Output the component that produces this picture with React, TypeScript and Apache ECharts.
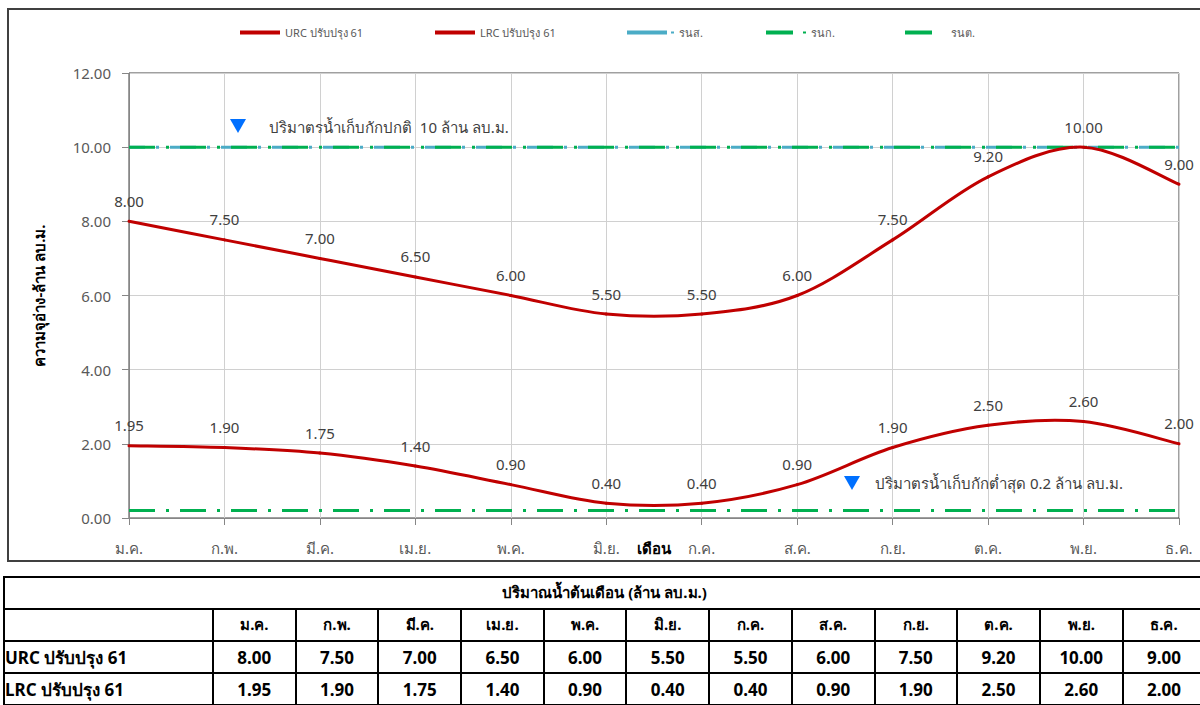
import React, { useEffect, useRef } from "react";
import * as echarts from "echarts";

const months = ["ม.ค.", "ก.พ.", "มี.ค.", "เม.ย.", "พ.ค.", "มิ.ย.", "ก.ค.", "ส.ค.", "ก.ย.", "ต.ค.", "พ.ย.", "ธ.ค."];
const urcName = "URC ปรับปรุง 61";
const lrcName = "LRC ปรับปรุง 61";
const urc = [8.0, 7.5, 7.0, 6.5, 6.0, 5.5, 5.5, 6.0, 7.5, 9.2, 10.0, 9.0];
const lrc = [1.95, 1.9, 1.75, 1.4, 0.9, 0.4, 0.4, 0.9, 1.9, 2.5, 2.6, 2.0];
const rns = [10, 10, 10, 10, 10, 10, 10, 10, 10, 10, 10, 10];
const rnk = [10, 10, 10, 10, 10, 10, 10, 10, 10, 10, 10, 10];
const rnt = [0.2, 0.2, 0.2, 0.2, 0.2, 0.2, 0.2, 0.2, 0.2, 0.2, 0.2, 0.2];
const yMin = 0;
const yMax = 12;
const yStep = 2;
const tableTitle = "ปริมาณน้ำต้นเดือน (ล้าน ลบ.ม.)";
const noteHigh = "ปริมาตรน้ำเก็บกักปกติ  10 ล้าน ลบ.ม.";
const noteLow = "ปริมาตรน้ำเก็บกักต่ำสุด 0.2 ล้าน ลบ.ม.";

const FONT = "Tahoma, 'Noto Sans', 'DejaVu Sans', sans-serif";
const RED = "#C00000";

// Excel-like smooth curve: one cubic segment per data item, Catmull-Rom control points
const makeCurve = (arr: number[], color: string) => (params: any, api: any) => {
  const i = params.dataIndex;
  if (i >= arr.length - 1) return { type: "group", children: [] };
  const P = (j: number) => {
    const k = Math.max(0, Math.min(arr.length - 1, j));
    return api.coord([k, arr[k]]);
  };
  const p0 = P(i - 1);
  const p1 = P(i);
  const p2 = P(i + 1);
  const p3 = P(i + 2);
  const t = 1 / 6;
  return {
    type: "bezierCurve",
    shape: {
      x1: p1[0],
      y1: p1[1],
      x2: p2[0],
      y2: p2[1],
      cpx1: p1[0] + (p2[0] - p0[0]) * t,
      cpy1: p1[1] + (p2[1] - p0[1]) * t,
      cpx2: p2[0] - (p3[0] - p1[0]) * t,
      cpy2: p2[1] - (p3[1] - p1[1]) * t,
    },
    style: { stroke: color, lineWidth: 3, fill: null, lineCap: "round" },
  };
};

export default function App() {
  const ref = useRef<HTMLDivElement>(null);
  useEffect(() => {
    document.body.style.margin = "0";
    document.documentElement.style.overflow = "hidden";
    const chart = echarts.init(ref.current!, null, { renderer: "svg" });
    const dash = [26, 11, 3, 11];
    const legendText = { fontSize: 11, color: "#595959", fontFamily: FONT };
    const lbl = {
      show: true,
      position: "top",
      distance: 13,
      fontSize: 15,
      color: "#404040",
      fontFamily: FONT,
      formatter: (p: any) => Number(p.value).toFixed(2),
    };
    const mkLegend = (name: string, left: number, icon: string, w: number, color: string, extra: any = {}) => ({
      data: [name],
      left,
      top: 22,
      icon,
      itemWidth: w,
      itemHeight: 4,
      itemStyle: { color },
      textStyle: { ...legendText, ...extra },
    });
    const curveData = (arr: number[]) => arr.map((v, i) => [i, v]);
    chart.setOption({
      animation: false,
      textStyle: { fontFamily: FONT },
      legend: [
        mkLegend(urcName, 235, "path://M0,0H40V4H0Z", 40, RED),
        mkLegend(lrcName, 430, "path://M0,0H40V4H0Z", 40, RED),
        mkLegend("รนส.", 622, "path://M0,0H40V4H0Z M44,1H47V3H44Z", 47, "#4BACC6"),
        mkLegend("รนก.", 761, "path://M0,0H27V4H0Z M37,1H40V3H37Z", 40, "#00B050"),
        mkLegend("รนต.", 900, "path://M0,0H27V4H0Z", 27, "#00B050", { padding: [0, 0, 0, 14] }),
      ],
      grid: {
        left: 129,
        right: 21,
        top: 73,
        bottom: 44,
        show: true,
        borderColor: "#404040",
        borderWidth: 1,
        outerBoundsMode: "none",
        containLabel: false,
      },
      xAxis: {
        type: "category",
        data: months,
        boundaryGap: false,
        name: "เดือน",
        nameLocation: "middle",
        nameGap: 22,
        nameMoveOverlap: false,
        nameTextStyle: { fontSize: 15, fontWeight: "bold", color: "#000", fontFamily: FONT, verticalAlign: "top" },
        axisLine: { lineStyle: { color: "#868686", width: 1 } },
        axisTick: { show: true, length: 7, lineStyle: { color: "#868686" } },
        axisLabel: { fontSize: 15, color: "#595959", margin: 22, fontFamily: FONT },
        splitLine: { show: true, lineStyle: { color: "#d0d0d0", width: 1 } },
      },
      yAxis: {
        type: "value",
        min: yMin,
        max: yMax,
        interval: yStep,
        name: "ความจุอ่าง-ล้าน ลบ.ม.",
        nameLocation: "middle",
        nameGap: 83,
        nameRotate: 90,
        nameMoveOverlap: false,
        nameTextStyle: { fontSize: 15, fontWeight: "bold", color: "#000", fontFamily: FONT },
        axisLine: { show: true, lineStyle: { color: "#868686", width: 1 } },
        axisTick: { show: true, length: 7, lineStyle: { color: "#868686" } },
        axisLabel: {
          fontSize: 15,
          color: "#595959",
          margin: 18,
          fontFamily: FONT,
          formatter: (v: number) => v.toFixed(2),
        },
        splitLine: { show: true, lineStyle: { color: "#d0d0d0", width: 1 } },
      },
      series: [
        {
          name: "รนส.",
          type: "line",
          data: rns,
          symbol: "none",
          lineStyle: { color: "#4BACC6", width: 3, type: dash, dashOffset: 10 },
          itemStyle: { color: "#4BACC6" },
          z: 1,
        },
        {
          name: "รนก.",
          type: "line",
          data: rnk,
          symbol: "none",
          lineStyle: { color: "#00B050", width: 3, type: dash },
          itemStyle: { color: "#00B050" },
          z: 2,
        },
        {
          name: "รนต.",
          type: "line",
          data: rnt,
          symbol: "none",
          lineStyle: { color: "#00B050", width: 3, type: dash },
          itemStyle: { color: "#00B050" },
          z: 2,
        },
        {
          name: urcName,
          type: "custom",
          data: curveData(urc),
          renderItem: makeCurve(urc, RED),
          itemStyle: { color: RED },
          z: 3,
        },
        {
          name: lrcName,
          type: "custom",
          data: curveData(lrc),
          renderItem: makeCurve(lrc, RED),
          itemStyle: { color: RED },
          z: 3,
        },
        {
          name: urcName,
          type: "line",
          data: urc,
          symbol: "circle",
          symbolSize: 0.01,
          showSymbol: true,
          showAllSymbol: true,
          lineStyle: { width: 0, opacity: 0 },
          itemStyle: { color: RED },
          label: lbl,
          z: 4,
        },
        {
          name: lrcName,
          type: "line",
          data: lrc,
          symbol: "circle",
          symbolSize: 0.01,
          showSymbol: true,
          showAllSymbol: true,
          lineStyle: { width: 0, opacity: 0 },
          itemStyle: { color: RED },
          label: lbl,
          z: 4,
        },
      ],
      graphic: [
        { type: "polygon", shape: { points: [[230, 119], [246, 119], [238, 133]] }, style: { fill: "#0070FF" }, z: 10 },
        {
          type: "text",
          x: 269,
          y: 127,
          style: { text: noteHigh, fontSize: 15, fill: "#404040", fontFamily: FONT, verticalAlign: "middle" },
          z: 10,
        },
        { type: "polygon", shape: { points: [[844, 476], [860, 476], [852, 490]] }, style: { fill: "#0070FF" }, z: 10 },
        {
          type: "text",
          x: 875,
          y: 483,
          style: { text: noteLow, fontSize: 15, fill: "#404040", fontFamily: FONT, verticalAlign: "middle" },
          z: 10,
        },
      ],
    });
    return () => chart.dispose();
  }, []);

  const cell: React.CSSProperties = {
    border: "2px solid #000",
    padding: 0,
    height: 30,
    textAlign: "center",
    fontWeight: "bold",
    fontFamily: FONT,
    color: "#000",
  };

  return (
    <div style={{ position: "relative", width: 1200, height: 705, overflow: "hidden", background: "#fff" }}>
      <div ref={ref} style={{ position: "absolute", left: 0, top: 0, width: 1200, height: 562 }} />
      <div
        style={{
          position: "absolute",
          left: 7,
          top: 8,
          width: 1210,
          height: 554,
          border: "2px solid #404040",
          boxSizing: "border-box",
          pointerEvents: "none",
        }}
      />
      <table
        style={{
          position: "absolute",
          left: 3,
          top: 576,
          width: 1201,
          borderCollapse: "collapse",
          tableLayout: "fixed",
          fontFamily: FONT,
        }}
      >
        <colgroup>
          <col style={{ width: 209 }} />
          {months.map((m) => (
            <col key={m} style={{ width: 82.7 }} />
          ))}
        </colgroup>
        <tbody>
          <tr>
            <td colSpan={13} style={{ ...cell, fontSize: 15 }}>{tableTitle}</td>
          </tr>
          <tr>
            <td style={{ ...cell }}></td>
            {months.map((m) => (
              <td key={m} style={{ ...cell, fontSize: 15 }}>{m}</td>
            ))}
          </tr>
          <tr>
            <td style={{ ...cell, textAlign: "left", fontSize: 17 }}>{urcName}</td>
            {urc.map((v, i) => (
              <td key={i} style={{ ...cell, fontSize: 17 }}>{v.toFixed(2)}</td>
            ))}
          </tr>
          <tr>
            <td style={{ ...cell, textAlign: "left", fontSize: 17 }}>{lrcName}</td>
            {lrc.map((v, i) => (
              <td key={i} style={{ ...cell, fontSize: 17 }}>{v.toFixed(2)}</td>
            ))}
          </tr>
        </tbody>
      </table>
    </div>
  );
}
